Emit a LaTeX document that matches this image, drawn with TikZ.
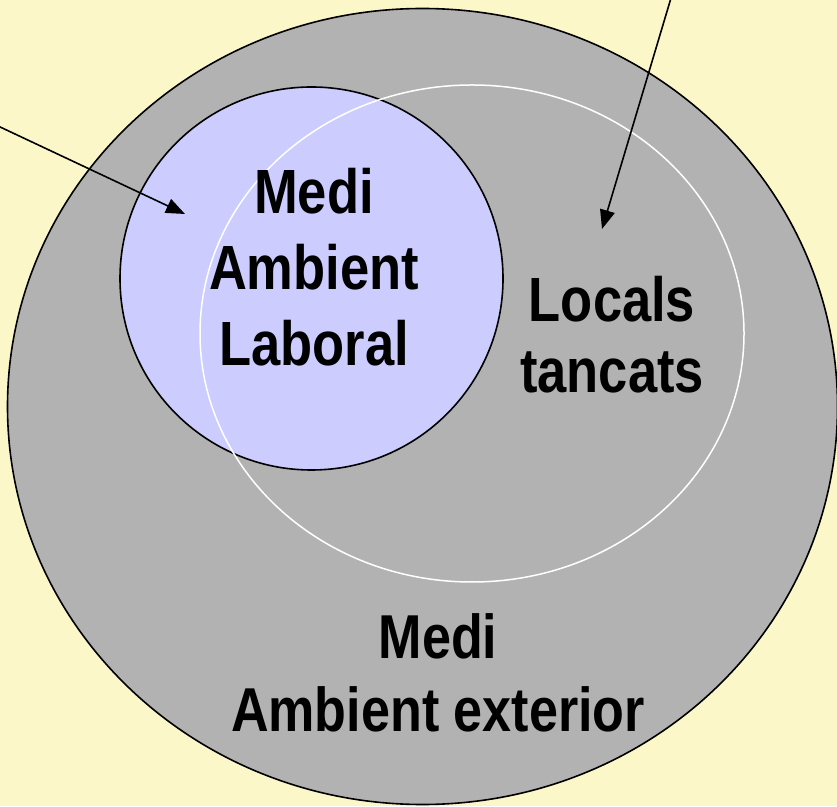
\documentclass[tikz,border=0pt]{standalone}
\usepackage{fontspec}
\setmainfont{Liberation Sans}[FakeStretch=0.84]
\usetikzlibrary{arrows.meta}
\definecolor{paper}{RGB}{251,247,201}
\definecolor{outside}{RGB}{178,178,178}
\definecolor{workblue}{RGB}{204,204,255}

\begin{document}
\begin{tikzpicture}[x=1pt,y=1pt]
\tikzstyle{zone} = [draw=black,line width=1.6pt]
\tikzstyle{room} = [draw=white,line width=1.5pt]
\tikzstyle{pointer} = [draw=black,line width=1.6pt,-{Triangle[length=19pt,width=15pt]}]
\tikzstyle{zonelabel} = [align=center,inner sep=0pt,font=\bfseries]

\useasboundingbox[fill=paper] (0,0) rectangle (837,806);

% the three regions
\coordinate (outer) at (422.5,399.5);
\coordinate (work) at (311.5,527.5);
\coordinate (closed) at (472,472.5);

\draw[zone,fill=outside] (outer) ellipse [x radius=415,y radius=398];
\draw[zone,fill=workblue] (work) circle [radius=191.5];
\draw[room] (closed) ellipse [x radius=272,y radius=248.5];

% pointers coming from outside the picture
\coordinate (p1) at (-2,680);
\coordinate (t1) at (185,592);
\coordinate (p2) at (671,808);
\coordinate (t2) at (602,577);
\draw[pointer] (p1) -- (t1);
\draw[pointer] (p2) -- (t2);

\node[zonelabel,font=\bfseries\fontsize{62.5}{76}\selectfont] (laboral) at (314,539) {Medi\\Ambient\\Laboral};
\node[zonelabel,font=\bfseries\fontsize{62.5}{71}\selectfont] (locals) at (612,471.5) {Locals\\tancats};
\node[zonelabel,font=\bfseries\fontsize{62}{73}\selectfont] (exterior) at (438,133.5) {Medi\\Ambient exterior};

\end{tikzpicture}
\end{document}
